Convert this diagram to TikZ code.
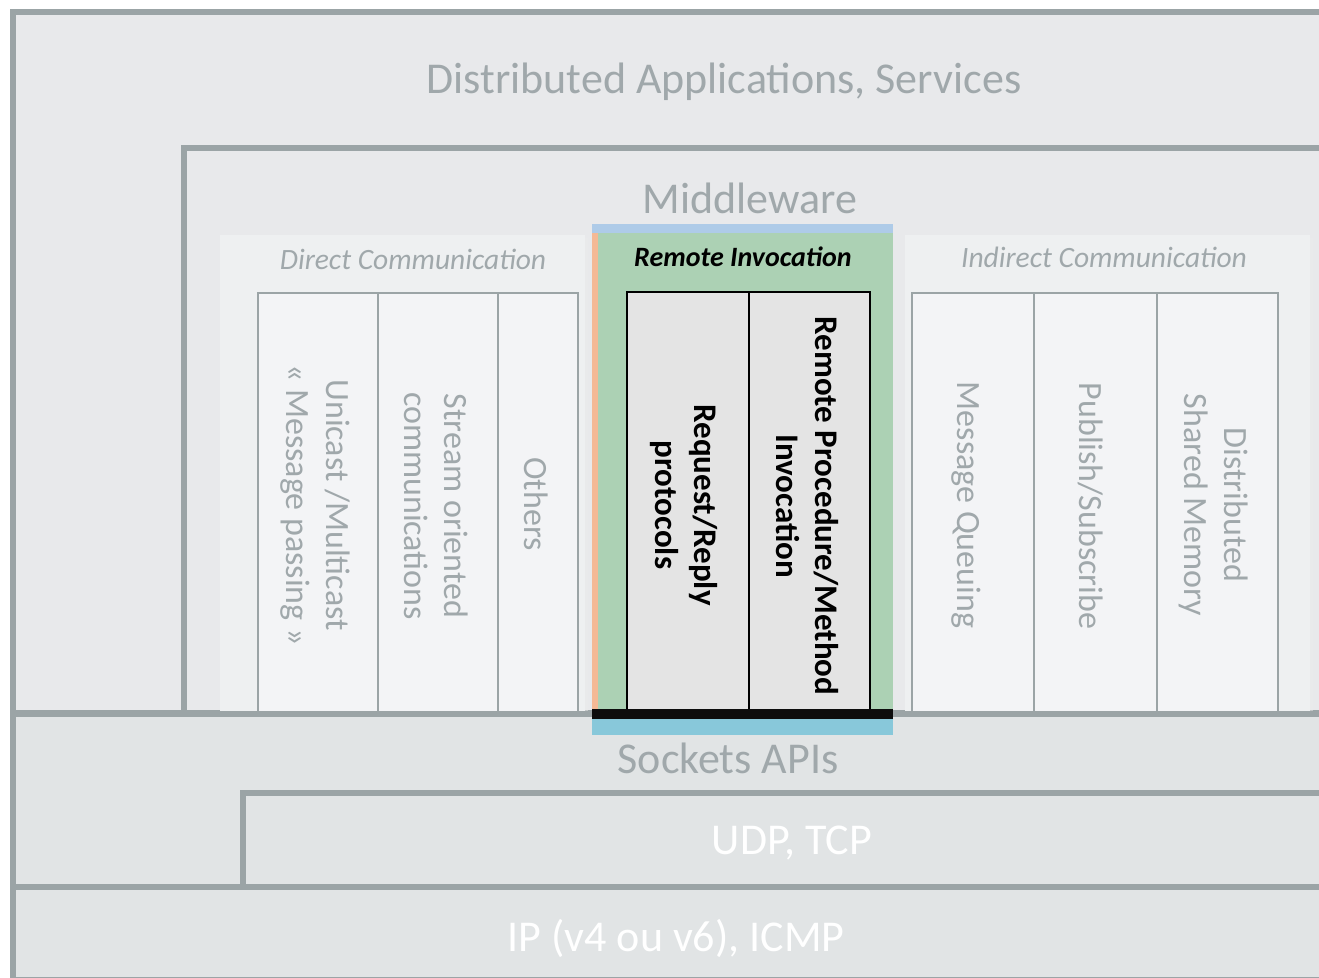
\documentclass[tikz,border=0pt]{standalone}
\usepackage{fontspec}
\setmainfont{Carlito}
\definecolor{bgouter}{HTML}{E8E9EB}
\definecolor{bglow}{HTML}{E1E4E5}
\definecolor{bord}{HTML}{9BA4A6}
\definecolor{panelfill}{HTML}{EEF0F1}
\definecolor{colfill}{HTML}{F3F4F6}
\definecolor{txtgray}{HTML}{A0A8AB}
\definecolor{rigreen}{HTML}{ACD1B4}
\definecolor{riinner}{HTML}{E4E4E4}
\definecolor{ritop}{HTML}{AECBE8}
\definecolor{riorange}{HTML}{F4B995}
\definecolor{ribottom}{HTML}{88C8DA}
\tikzset{
  layer/.style={draw=bord, line width=6pt, fill=#1},
  layertxt/.style={font=\fontsize{44}{50}\selectfont, text=txtgray, inner sep=0pt},
  whitetxt/.style={font=\fontsize{44}{50}\selectfont, text=white, inner sep=0pt},
  coltxt/.style={font=\fontsize{34}{40}\selectfont, text=txtgray, rotate=-90, align=center, inner sep=0pt},
  ritxt/.style={font=\fontsize{33}{39}\selectfont\bfseries, text=black, rotate=-90, align=center, inner sep=0pt},
  coltitle/.style={font=\fontsize{29.5}{34}\selectfont\itshape, text=txtgray, inner sep=0pt},
  colbox/.style={draw=bord, line width=2pt, fill=colfill},
}
\begin{document}
\begin{tikzpicture}[x=1pt,y=-1pt]
\useasboundingbox (0,0) rectangle (1319,977);
\clip (0,0) rectangle (1319,977);
\fill[white] (0,0) rectangle (1319,977);
% outer layer
\draw[layer=bgouter] (13,12) rectangle (1340,713);
\node[layertxt] (apps) at (724,82) {Distributed Applications, Services};
% middleware
\draw[layer=bgouter] (184,148) rectangle (1340,713);
\node[layertxt] (mw) at (750,198) {Middleware};
% direct panel
\fill[black!8, opacity=0.5] (223,238) rectangle (588,713);
\fill[panelfill] (220,235) rectangle (585,713);
\node[coltitle] (dct) at (413,259) {Direct Communication};
\draw[colbox] (258,293) rectangle (378,713);
\draw[colbox] (378,293) rectangle (498,713);
\draw[colbox] (498,293) rectangle (578,713);
\node[coltxt] (uni) at (315,505) {Unicast /Multicast\\« Message passing »};
\node[coltxt] (str) at (436,506) {Stream oriented\\communications};
\node[coltxt] (oth) at (536,504) {Others};
% indirect panel
\fill[black!8, opacity=0.5] (908,238) rectangle (1313,713);
\fill[panelfill] (905,235) rectangle (1310,713);
\node[coltitle] (ict) at (1104,257) {Indirect Communication};
\draw[colbox] (912,293) rectangle (1034,713);
\draw[colbox] (1034,293) rectangle (1157,713);
\draw[colbox] (1157,293) rectangle (1278,713);
\node[coltxt] (mq) at (966,505) {Message Queuing};
\node[coltxt] (ps) at (1091,506) {Publish/Subscribe};
\node[coltxt] (dsm) at (1214,505) {Distributed\\Shared Memory};
% remote invocation
\fill[ritop] (592,224) rectangle (893,234);
\fill[rigreen] (592,233) rectangle (893,711);
\fill[riorange] (592,233) rectangle (598,711);
\node[font=\fontsize{28}{33}\selectfont\bfseries\itshape, inner sep=0pt] (rit) at (743,257) {Remote Invocation};
\draw[black, line width=2pt, fill=riinner] (627,292) rectangle (870,712);
\draw[black, line width=2pt] (749,292) -- (749,712);
\node[ritxt] (rr) at (684,505) {Request/Reply\\protocols};
\node[ritxt] (rpc) at (807,506) {Remote Procedure/Method\\Invocation};
% sockets
\draw[layer=bglow] (13,714) rectangle (1340,887);
\fill[ribottom] (592,719) rectangle (893,735);
\fill[black!95] (592,709) rectangle (893,719);
\node[layertxt] (sock) at (728,758) {Sockets APIs};
% udp
\draw[layer=bglow] (243,793) rectangle (1340,887);
\node[whitetxt] (udp) at (792,843) {UDP, TCP};
% ip
\draw[layer=bglow] (13,887) rectangle (1340,980);
\node[whitetxt] (ip) at (676,938) {IP (v4 ou v6), ICMP};
\end{tikzpicture}
\end{document}
